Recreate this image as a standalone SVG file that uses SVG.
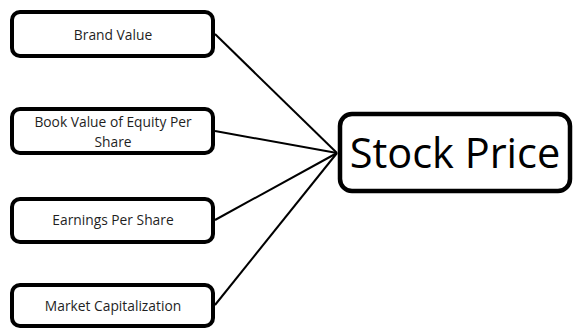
<svg xmlns="http://www.w3.org/2000/svg" width="573" height="329" viewBox="0 0 573 329">
  <defs>
    <style>
      .box { fill: #ffffff; stroke: #000000; stroke-width: 4; }
      .lbl { font-family: "Open Sans", "Liberation Sans", sans-serif; font-size: 13.8px; fill: #1f1f1f; text-anchor: middle; }
      .big { font-family: "Open Sans", "Liberation Sans", sans-serif; font-size: 41.5px; fill: #000000; text-anchor: middle; }
      .link { stroke: #000000; stroke-width: 2; fill: none; }
    </style>
  </defs>
  <rect width="573" height="329" fill="#ffffff"/>

  <!-- connectors into the result node -->
  <g id="connectors">
    <line class="link" x1="215" y1="34" x2="337" y2="153"/>
    <line class="link" x1="215" y1="131" x2="337" y2="153"/>
    <line class="link" x1="215" y1="220" x2="337" y2="153"/>
    <line class="link" x1="215" y1="305" x2="337" y2="153"/>
  </g>

  <g id="brand-value">
    <rect class="box" x="12" y="12" width="201" height="44" rx="8"/>
    <text class="lbl" x="113" y="40">Brand Value</text>
  </g>

  <g id="book-value">
    <rect class="box" x="12" y="109" width="201" height="44" rx="8"/>
    <text class="lbl" x="113" y="127">Book Value of Equity Per</text>
    <text class="lbl" x="113" y="147">Share</text>
  </g>

  <g id="eps">
    <rect class="box" x="12" y="199" width="201" height="43" rx="8"/>
    <text class="lbl" x="113" y="225">Earnings Per Share</text>
  </g>

  <g id="market-cap">
    <rect class="box" x="12" y="285" width="201" height="41" rx="8"/>
    <text class="lbl" x="113" y="311">Market Capitalization</text>
  </g>

  <g id="stock-price">
    <rect class="box" x="340" y="114" width="230" height="77" rx="12" style="stroke-width:4.5"/>
    <text class="big" x="455" y="168">Stock Price</text>
  </g>
</svg>
